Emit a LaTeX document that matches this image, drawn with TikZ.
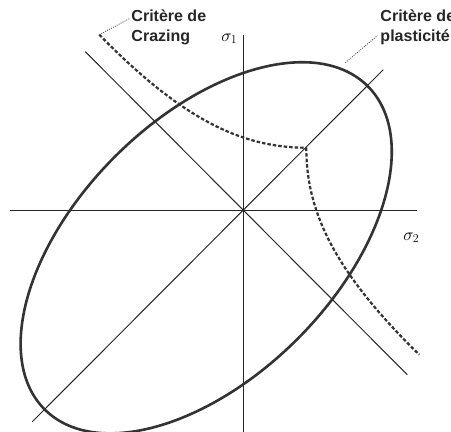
\documentclass[tikz,border=0pt]{standalone}
\usepackage{fontspec}
\setmainfont{Liberation Sans}
\begin{document}
\begin{tikzpicture}[x=1pt,y=1pt,
  axisline/.style={line width=1.4pt,black!85},
  vaxisline/.style={line width=1.1pt,black!85},
  diagline/.style={line width=1pt,black!85},
  curveline/.style={line width=2.6pt,black!80},
  crazeline/.style={line width=2.2pt,black!80,dash pattern=on 3.5pt off 2pt},
  leader/.style={line width=0.8pt,black!70,dash pattern=on 1pt off 1.2pt},
  lbl/.style={font=\bfseries\fontsize{16}{20}\selectfont,text=black!85,align=left,inner sep=0pt,anchor=north west},
  sig/.style={font=\fontsize{18}{20}\selectfont,inner sep=0pt}]
\useasboundingbox (-243.3,-221.3) rectangle (207.7,210.7);
% axes
\coordinate (O) at (0,0);
\coordinate (hl) at (-233,0); \coordinate (hr) at (174,0);
\coordinate (vt) at (0,176); \coordinate (vb) at (0,-221.3);
\coordinate (d1) at (-211,-211); \coordinate (d2) at (140,141);
\coordinate (a1) at (-158,159); \coordinate (a2) at (164,-164);
\draw[axisline] (hl) -- (hr);
\draw[vaxisline] (vt) -- (vb);
\draw[diagline] (d1) -- (d2);
\draw[diagline] (a1) -- (a2);
% plasticity ellipse
\draw[curveline] (-37.1,-37.1) ellipse[x radius=228.5, y radius=129, rotate=45];
% crazing criterion
\coordinate (cs) at (-144,176);
\coordinate (cc) at (63,63);
\coordinate (ce) at (176,-144);
\draw[crazeline] (cs) .. controls (-60,90) and (0,63) .. (cc);
\draw[crazeline] (cc) .. controls (63,0) and (90,-60) .. (ce);
% labels
\node[lbl] (lcraze) at (-112,201) {Critère de\\Crazing};
\node[lbl] (lplast) at (137,201) {Critère de\\plasticité};
\coordinate (pe) at (102,148);
\draw[leader] (cs) -- ([xshift=-2pt,yshift=-9pt]lcraze.north west);
\draw[leader] (pe) -- ([xshift=-3pt,yshift=-26pt]lplast.north west);
\node[sig] (s1) at (-14,172) {$\sigma_1$};
\node[sig] (s2) at (168,-27) {$\sigma_2$};
\end{tikzpicture}
\end{document}
